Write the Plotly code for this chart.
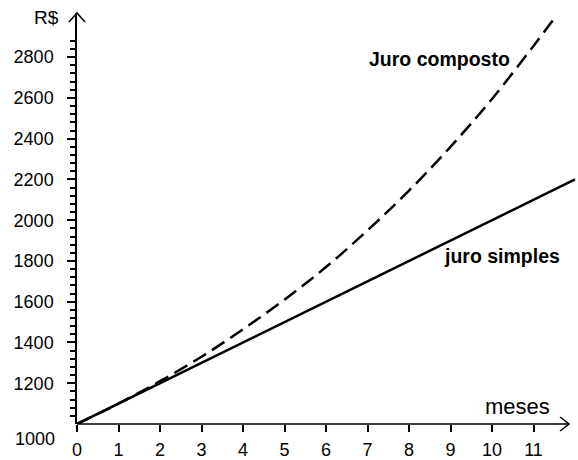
import plotly.graph_objects as go

# dados
meses_simples = [0, 12]
valores_simples = [1000, 2200]

meses_composto = [0, 1, 2, 3, 4, 5, 6, 7, 8, 9, 10, 11, 11.5]
valores_composto = [1000, 1100, 1210, 1330, 1465, 1610, 1770, 1950, 2145, 2360, 2595, 2855, 2990]

x_ticks = [0, 1, 2, 3, 4, 5, 6, 7, 8, 9, 10, 11]
y_ticks = [1200, 1400, 1600, 1800, 2000, 2200, 2400, 2600, 2800]
y_minor = [v for v in range(1040, 2881, 40) if v % 200 != 0]

# plot area in pixels
L, R, T, B = 77, 578, 13, 424
W, H = R - L, B - T


def px(x):
    return (x - L) / W


def py(y):
    return (B - y) / H


tick_font = dict(family="Liberation Sans, Arial, sans-serif", size=18, color="black")
label_font = dict(family="Liberation Sans, Arial, sans-serif", size=19.5, color="black")

fig = go.Figure()

fig.add_trace(go.Scatter(
    x=meses_simples, y=valores_simples, mode="lines",
    line=dict(color="black", width=2.5), name="juro simples"
))
fig.add_trace(go.Scatter(
    x=meses_composto, y=valores_composto, mode="lines",
    line=dict(color="black", width=2.5, dash="15px,7px", shape="spline"),
    name="Juro composto"
))

# axes lines and arrows
fig.add_shape(type="line", xref="paper", yref="paper",
              x0=0, x1=px(569), y0=0, y1=0, line=dict(color="black", width=1.5))
fig.add_shape(type="path", xref="paper", yref="paper",
              xsizemode="pixel", ysizemode="pixel", xanchor=px(569), yanchor=0,
              path="M -9,7 L 0,0 L -9,-7", line=dict(color="black", width=1.5))
fig.add_shape(type="path", xref="paper", yref="paper",
              xsizemode="pixel", ysizemode="pixel", xanchor=0, yanchor=1,
              path="M -8,-9 L 0,0 L 8,-9", line=dict(color="black", width=1.5))

annotations = [
    dict(text="R$", x=px(46), y=py(18), font=dict(family="Liberation Sans, Arial", size=19, color="black")),
    dict(text="meses", x=px(517), y=py(406), font=dict(family="Liberation Sans, Arial", size=22, color="black")),
    dict(text="<b>Juro composto</b>", x=px(439), y=py(59), font=label_font),
    dict(text="<b>juro simples</b>", x=px(502), y=py(256), font=label_font),
    dict(text="1000", x=px(57), y=py(439), xanchor="right", font=tick_font),
]
for a in annotations:
    a.update(xref="paper", yref="paper", showarrow=False)
    a.setdefault("xanchor", "center")
    a.setdefault("yanchor", "middle")

fig.update_layout(
    width=578, height=460,
    margin=dict(l=L, r=578 - R, t=T, b=460 - B),
    paper_bgcolor="white", plot_bgcolor="white",
    showlegend=False,
    annotations=annotations,
    xaxis=dict(
        range=[0, W / 41.5], showgrid=False, zeroline=False, showline=False,
        tickmode="array", tickvals=x_ticks, ticks="outside", ticklen=7,
        tickcolor="black", tickwidth=1.5, tickfont=tick_font, ticklabelstandoff=2,
    ),
    yaxis=dict(
        range=[1000, 1000 + H / 0.2038], showgrid=False, zeroline=False,
        showline=True, linecolor="black", linewidth=1.5,
        tickmode="array", tickvals=y_ticks,
        ticktext=[f"{v}\u00a0\u00a0" for v in y_ticks],
        ticks="outside", ticklen=8,
        tickcolor="black", tickwidth=1.5, tickfont=tick_font,
        minor=dict(tickmode="array", tickvals=y_minor, ticks="outside", ticklen=5,
                   tickcolor="black", tickwidth=1.5),
    ),
)

fig.write_html("out.html", config={"displayModeBar": False},
               post_script="document.body.style.margin='0';")
